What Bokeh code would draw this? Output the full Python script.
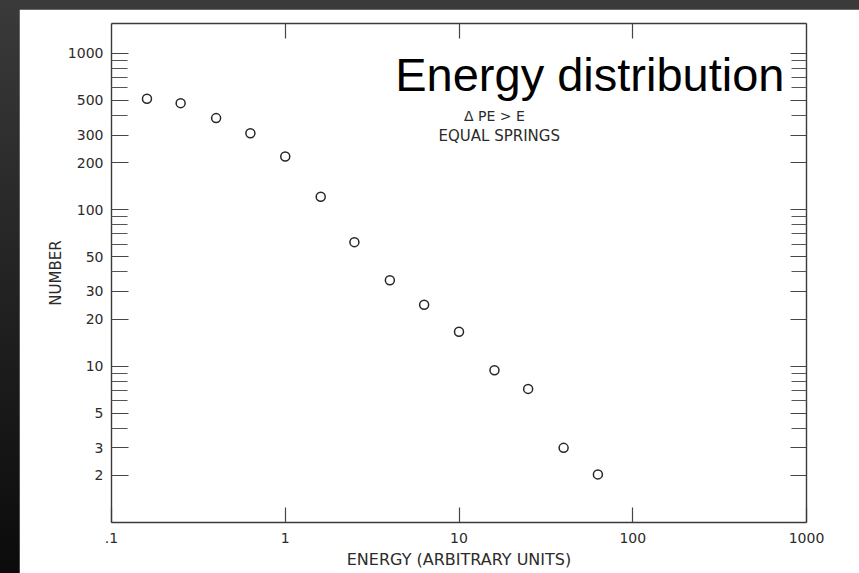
from bokeh.plotting import figure
from bokeh.models import ColumnDataSource, FixedTicker, LogAxis, Label
from bokeh.layouts import column
from bokeh.embed import file_html
from bokeh.resources import INLINE

# Energy bins (arbitrary units) and the number of events counted in each
energy = [0.16, 0.25, 0.40, 0.63, 1.0, 1.6, 2.5, 4.0, 6.3, 10, 16, 25, 40, 63]
number = [512, 480, 385, 308, 219, 121, 62, 35.4, 24.7, 16.6, 9.4, 7.15, 3.0, 2.03]

# Axis ticks and their labels
x_ticks = [0.1, 1, 10, 100, 1000]
x_tick_labels = [".1", "1", "10", "100", "1000"]
x_inner_ticks = [1, 10, 100]
y_ticks = [2, 3, 5, 10, 20, 30, 50, 100, 200, 300, 500, 1000]
y_tick_labels = ["2", "3", "5", "10", "20", "30", "50", "100", "200", "300", "500", "1000"]
y_minor_ticks = [4, 6, 7, 8, 9, 40, 60, 70, 80, 90, 400, 600, 700, 800, 900]

INK = "#2b2b2b"
LINE = "#3a3a3a"
LABEL_FONT = "DejaVu Sans"

p = figure(
    width=840, height=564,
    x_axis_type="log", y_axis_type="log",
    x_range=(0.1, 1000), y_range=(1, 1550),
    output_backend="svg", toolbar_location=None,
    min_border_left=92, min_border_right=53,
    min_border_top=14, min_border_bottom=51,
    background_fill_color="white", border_fill_color="white",
    margin=(9, 0, 0, 19),
)
p.grid.visible = False
p.outline_line_color = None


def style_axis(ax, tick_len, minor_len=0):
    ax.axis_line_color = LINE
    ax.axis_line_width = 1.4
    ax.major_tick_in = tick_len
    ax.major_tick_out = 0
    ax.minor_tick_in = minor_len
    ax.minor_tick_out = 0
    ax.major_tick_line_color = "#454545"
    ax.minor_tick_line_color = "#555555"
    ax.major_tick_line_width = 1.2
    ax.minor_tick_line_width = 1.1
    ax.major_label_text_font = LABEL_FONT
    ax.major_label_text_font_size = "14px"
    ax.major_label_text_color = INK
    ax.axis_label_text_font = LABEL_FONT
    ax.axis_label_text_font_size = "16px"
    ax.axis_label_text_font_style = "normal"
    ax.axis_label_text_color = INK


# bottom axis
xb = p.xaxis[0]
xb.ticker = FixedTicker(ticks=x_ticks)
xb.major_label_overrides = dict(zip(x_ticks, x_tick_labels))
style_axis(xb, 15)
xb.major_label_standoff = 10
xb.axis_label = "ENERGY (ARBITRARY UNITS)"
xb.axis_label_standoff = 4

# left axis
yl = p.yaxis[0]
yl.ticker = FixedTicker(ticks=y_ticks, minor_ticks=y_minor_ticks)
yl.major_label_overrides = dict(zip(y_ticks, y_tick_labels))
style_axis(yl, 17, 16)
yl.major_label_standoff = 8
yl.axis_label = "NUMBER"
yl.axis_label_text_font_size = "15px"
yl.axis_label_standoff = 0

# right axis: ticks only
yr = LogAxis(ticker=FixedTicker(ticks=y_ticks, minor_ticks=y_minor_ticks))
yr.major_label_overrides = {t: "" for t in y_ticks}
style_axis(yr, 16, 15)
p.add_layout(yr, "right")

# top axis: ticks only
xt = LogAxis(ticker=FixedTicker(ticks=x_inner_ticks))
xt.major_label_overrides = {t: "" for t in x_inner_ticks}
style_axis(xt, 15)
p.add_layout(xt, "above")

src = ColumnDataSource(dict(energy=energy, number=number))
p.scatter("energy", "number", source=src, marker="circle", size=9,
          fill_color=None, line_color="#262626", line_width=1.5)

p.add_layout(Label(x=747, y=733, text="Energy distribution",
                   text_font="Liberation Sans", text_font_size="47px",
                   text_color="black", text_align="right",
                   text_baseline="alphabetic"))
p.add_layout(Label(x=16.0, y=400, text="Δ PE > E",
                   text_font=LABEL_FONT, text_font_size="14px",
                   text_color=INK, text_align="center",
                   text_baseline="middle"))
p.add_layout(Label(x=17.6, y=294, text="EQUAL  SPRINGS",
                   text_font=LABEL_FONT, text_font_size="15px",
                   text_color=INK, text_align="center",
                   text_baseline="middle"))

page = column(p, width=859, height=573,
              styles={"background": "linear-gradient(to bottom, #3a3a3a, #0b0b0b)"})

open("out.html", "w").write(file_html(page, INLINE))
